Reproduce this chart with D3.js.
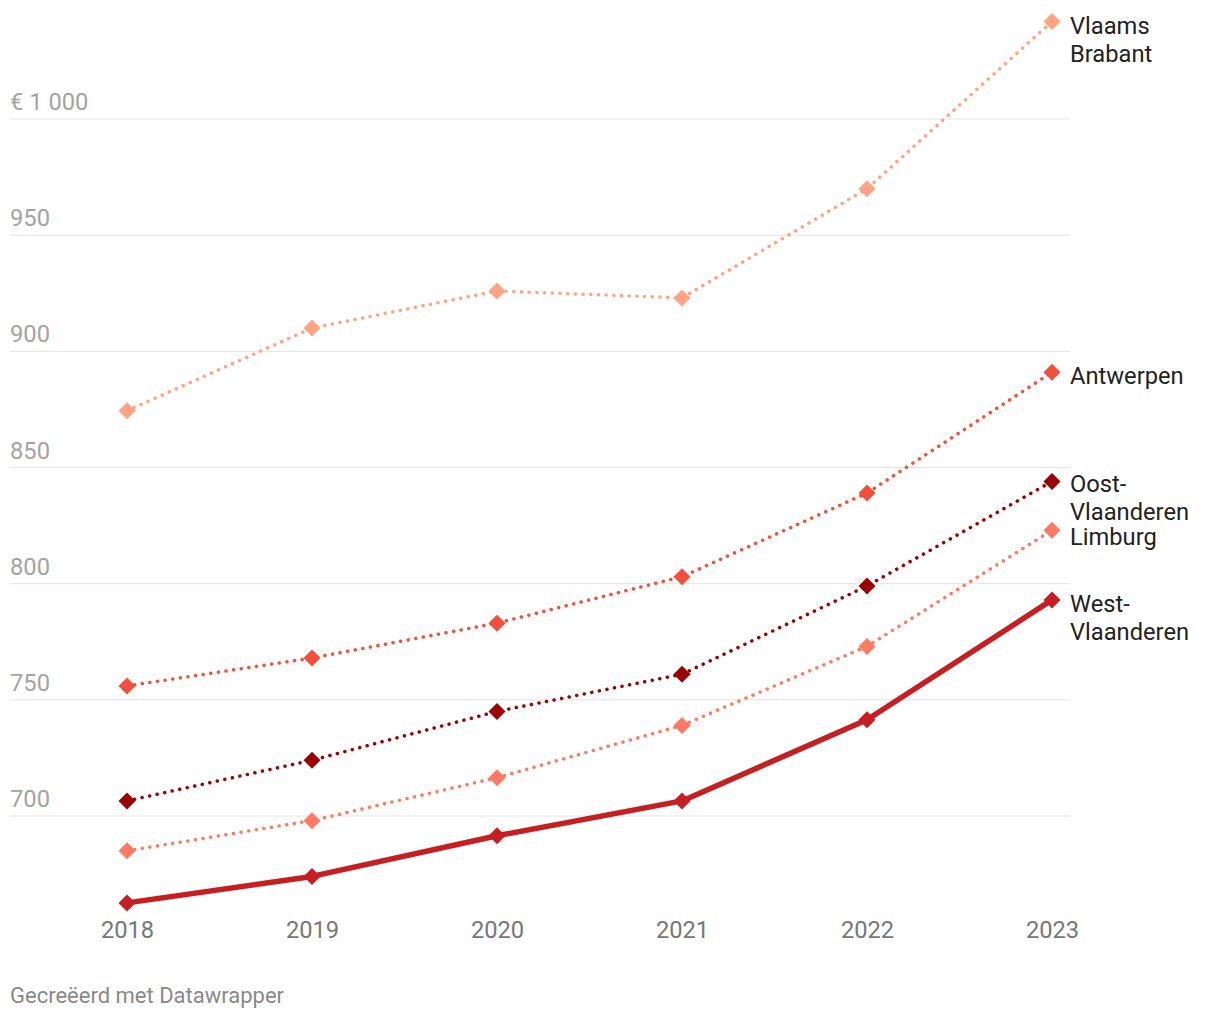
<!DOCTYPE html>
<html><head><meta charset="utf-8">
<script src="https://cdn.jsdelivr.net/npm/d3@7"></script>
<style>body{margin:0;background:#fff;font-family:Roboto,sans-serif}</style>
</head><body><svg id="c" width="1220" height="1020"></svg>
<script>
const years = [2018, 2019, 2020, 2021, 2022, 2023];
const yTicks = [700, 750, 800, 850, 900, 950, 1000];
const seriesNames = ["Vlaams Brabant", "Antwerpen", "Oost-Vlaanderen", "Limburg", "West-Vlaanderen"];
const vlaamsBrabant = [874.4, 910, 926, 923, 970, 1042];
const antwerpen = [756, 768, 783, 803, 839, 891];
const oostVlaanderen = [706.5, 724, 745, 761, 799, 844];
const limburg = [685, 698, 716.5, 739, 773, 823];
const westVlaanderen = [662.6, 674, 691.5, 706.5, 741.4, 793];
const labelLines = [["Vlaams","Brabant"],["Antwerpen"],["Oost-","Vlaanderen"],["Limburg"],["West-","Vlaanderen"]];
const colors = ["#ffa384", "#f44f3d", "#9b0303", "#ff7a63", "#c71e22"];
const dotted = [true, true, true, true, false];

const series = [vlaamsBrabant, antwerpen, oostVlaanderen, limburg, westVlaanderen];
const svg = d3.select("#c").style("font-family", "Roboto, sans-serif");
const x = d3.scaleLinear().domain([2018, 2023]).range([127, 1052]);
const y = d3.scaleLinear().domain([700, 1000]).range([816, 119]);

// grid
const g = svg.append("g");
g.selectAll("line.grid").data(yTicks).join("line")
  .attr("x1", 10).attr("x2", 1070)
  .attr("y1", d => y(d)).attr("y2", d => y(d))
  .attr("stroke", "#e3e3e3").attr("stroke-width", 1);
g.selectAll("text.yt").data(yTicks).join("text")
  .attr("x", 10).attr("y", d => y(d) - 9)
  .attr("fill", "#a3a3a3").attr("font-size", 23.7)
  .text(d => d === 1000 ? "€ 1 000" : d);

// x axis
const xAxis = d3.axisBottom(x).tickValues(years).tickFormat(d3.format("d")).tickSize(0).tickPadding(0);
const xg = svg.append("g").attr("transform", "translate(0,938)").call(xAxis);
xg.select(".domain").remove();
xg.selectAll("text").attr("font-size", 23.7).attr("fill", "#777").attr("font-family", "Roboto, sans-serif").attr("dy", 0);

// lines
const line = d3.line().x((d, i) => x(years[i])).y(d => y(d));
const order = [0, 1, 3, 2, 4];
order.forEach(si => {
  const vals = series[si];
  const p = svg.append("path").datum(vals).attr("d", line)
    .attr("fill", "none").attr("stroke", colors[si])
    .attr("stroke-linejoin", "round");
  if (dotted[si]) {
    p.attr("stroke-width", 3.5).attr("stroke-dasharray", "0.1 7.6").attr("stroke-linecap", "round");
  } else {
    p.attr("stroke-width", 5.5).attr("stroke-linecap", "round");
  }
  const sym = d3.symbol().type(d3.symbolSquare).size(145);
  svg.append("g").selectAll("path").data(vals).join("path")
    .attr("d", sym)
    .attr("transform", (d, i) => `translate(${x(years[i])},${y(d)}) rotate(45)`)
    .attr("fill", colors[si]);
});

// labels
const labelY = [34, 384, 492, 545, 612];
labelLines.forEach((lines, si) => {
  const t = svg.append("text").attr("x", 1070).attr("y", labelY[si])
    .attr("font-size", 23.7).attr("fill", "#222");
  lines.forEach((l, k) => t.append("tspan").attr("x", 1070).attr("dy", k === 0 ? 0 : 28).text(l));
});

svg.append("text").attr("x", 10).attr("y", 1003).attr("font-size", 22).attr("fill", "#888")
  .text("Gecreëerd met Datawrapper");
</script></body></html>
